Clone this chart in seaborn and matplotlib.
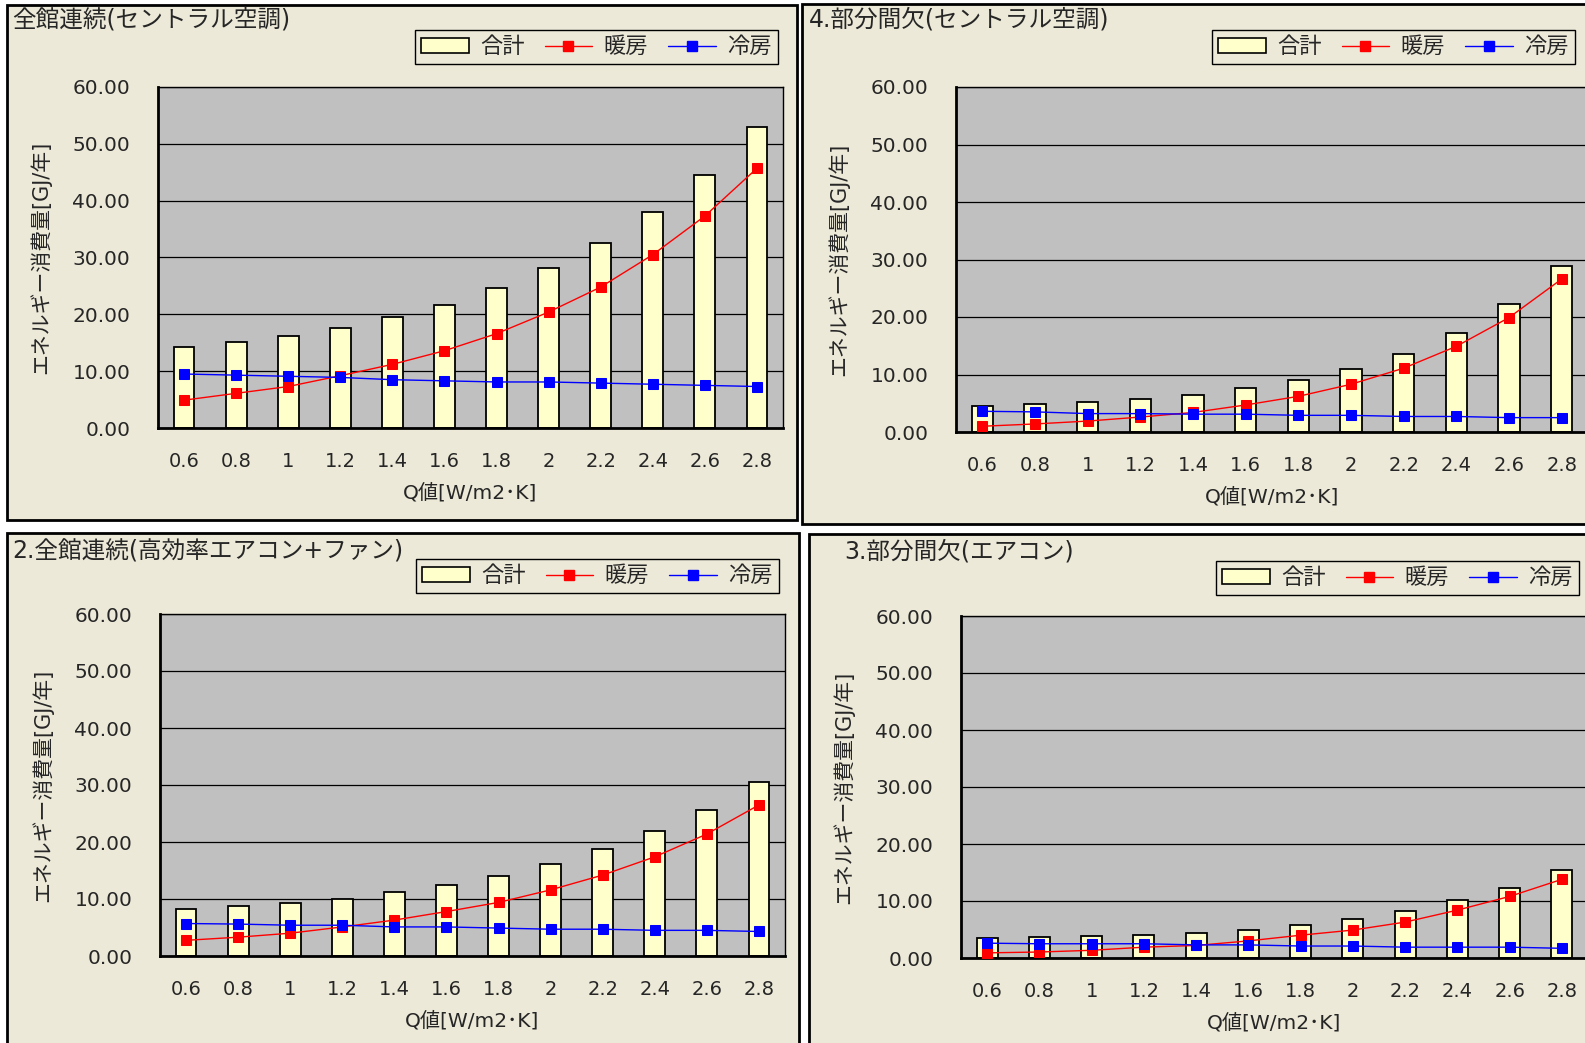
import matplotlib
matplotlib.use("Agg")
import matplotlib.pyplot as plt
from matplotlib.patches import Rectangle, Patch
from matplotlib.lines import Line2D
from matplotlib.ticker import FixedLocator, FormatStrFormatter
import seaborn as sns

# Q value categories
q_labels = ["0.6", "0.8", "1", "1.2", "1.4", "1.6", "1.8", "2", "2.2", "2.4", "2.6", "2.8"]
series_names = ["合計", "暖房", "冷房"]

# 全館連続(セントラル空調)
total_cc = [14.3, 15.1, 16.2, 17.6, 19.5, 21.7, 24.7, 28.2, 32.5, 38.0, 44.6, 52.9]
heat_cc = [4.9, 6.1, 7.3, 9.2, 11.2, 13.6, 16.6, 20.4, 24.8, 30.5, 37.3, 45.7]
cool_cc = [9.5, 9.3, 9.1, 8.9, 8.5, 8.3, 8.1, 8.1, 7.9, 7.7, 7.5, 7.3]

# 4.部分間欠(セントラル空調)
total_pc = [4.6, 4.8, 5.2, 5.8, 6.4, 7.6, 9.0, 11.0, 13.6, 17.2, 22.2, 28.8]
heat_pc = [1.0, 1.4, 1.9, 2.6, 3.4, 4.7, 6.2, 8.3, 11.1, 14.9, 19.9, 26.6]
cool_pc = [3.6, 3.5, 3.2, 3.2, 3.1, 3.1, 2.9, 2.9, 2.7, 2.7, 2.5, 2.5]

# 2.全館連続(高効率エアコン+ファン)
total_ca = [8.3, 8.7, 9.3, 10.0, 11.3, 12.5, 14.1, 16.1, 18.7, 21.9, 25.7, 30.5]
heat_ca = [2.75, 3.3, 4.0, 5.1, 6.3, 7.8, 9.4, 11.6, 14.2, 17.4, 21.4, 26.5]
cool_ca = [5.7, 5.6, 5.4, 5.4, 5.1, 5.1, 4.9, 4.7, 4.7, 4.5, 4.5, 4.3]

# 3.部分間欠(エアコン)
total_pa = [3.45, 3.6, 3.8, 4.0, 4.4, 5.0, 5.8, 6.8, 8.2, 10.1, 12.3, 15.5]
heat_pa = [0.9, 1.05, 1.35, 1.9, 2.2, 3.0, 4.0, 4.9, 6.3, 8.4, 10.8, 13.8]
cool_pa = [2.6, 2.5, 2.5, 2.5, 2.3, 2.3, 2.1, 2.1, 1.9, 1.9, 1.9, 1.7]

titles = ["全館連続(セントラル空調)", "4.部分間欠(セントラル空調)",
          "2.全館連続(高効率エアコン+ファン)", "3.部分間欠(エアコン)"]
xlabel = "Q値[W/m2･K]"
ylabel = "エネルギー消費量[GJ/年]"

# layout in pixels: frame, plot area, title pos, legend (right, top)
W, H = 1585, 1043
layout = [
    dict(frame=(7, 5, 797, 520), plot=(158, 87, 783, 428), title=(12, 20), legend=(778, 30)),
    dict(frame=(802, 4, 1600, 524), plot=(956, 87, 1588, 432), title=(809, 20), legend=(1575, 30)),
    dict(frame=(7, 533, 799, 1060), plot=(160, 614, 785, 956), title=(12, 551), legend=(779, 559)),
    dict(frame=(809, 534, 1600, 1060), plot=(961, 616, 1588, 958), title=(844, 552), legend=(1579, 561)),
]
data = [(total_cc, heat_cc, cool_cc), (total_pc, heat_pc, cool_pc),
        (total_ca, heat_ca, cool_ca), (total_pa, heat_pa, cool_pa)]

panel_bg = "#ECE9D8"
plot_bg = "#C0C0C0"
bar_color = "#FFFFCC"

sns.set_style("white")
plt.rcParams['font.family'] = ['DejaVu Sans', 'Noto Sans CJK JP']


def fx(x):
    return x / W


def fy(y):
    return 1 - y / H


fig = plt.figure(figsize=(W / 100, H / 100), dpi=100, facecolor="white")

for lay, title, (total, heat, cool) in zip(layout, titles, data):
    x0, y0, x1, y1 = lay["frame"]
    fig.add_artist(Rectangle((fx(x0), fy(y1)), fx(x1 - x0), (y1 - y0) / H,
                             transform=fig.transFigure, facecolor=panel_bg,
                             edgecolor="black", linewidth=2, zorder=-5))
    px0, py0, px1, py1 = lay["plot"]
    ax = fig.add_axes([fx(px0), fy(py1), fx(px1 - px0), (py1 - py0) / H])
    ax.set_facecolor(plot_bg)

    sns.barplot(x=q_labels, y=total, color=bar_color, saturation=1, width=0.4,
                edgecolor="black", linewidth=1.3, ax=ax, zorder=2)
    sns.pointplot(x=q_labels, y=heat, color="red", marker="s", markersize=7.5,
                  linewidth=1, errorbar=None, ax=ax, zorder=3)
    sns.pointplot(x=q_labels, y=cool, color="blue", marker="s", markersize=7.5,
                  linewidth=1, errorbar=None, ax=ax, zorder=4)

    ax.set_xlim(-0.5, len(q_labels) - 0.5)
    ax.set_ylim(0, 60)
    ax.set_yticks(range(0, 61, 10))
    ax.yaxis.set_major_formatter(FormatStrFormatter("%.2f"))
    ax.grid(axis="y", color="black", linewidth=0.9)
    ax.set_axisbelow(True)
    ax.xaxis.set_minor_locator(FixedLocator([i + 0.5 for i in range(len(q_labels) - 1)]))
    ax.tick_params(axis="x", which="major", length=0, pad=17, labelsize=14)
    ax.tick_params(axis="x", which="minor", direction="in", length=5, width=1, color="black")
    ax.tick_params(axis="y", direction="in", length=5, width=1, color="black", pad=20, labelsize=14.5)
    for side in ["top", "right"]:
        ax.spines[side].set_linewidth(1)
        ax.spines[side].set_color("black")
    for side in ["left", "bottom"]:
        ax.spines[side].set_linewidth(2)
        ax.spines[side].set_color("black")
    ax.set_xlabel(xlabel, fontsize=14.5, labelpad=9)
    ax.set_ylabel(ylabel, fontsize=15, labelpad=15)

    tx, ty = lay["title"]
    fig.text(fx(tx), fy(ty), title, fontsize=17, ha="left", va="center")

    handles = [Patch(facecolor=bar_color, edgecolor="black", linewidth=1.2),
               Line2D([], [], color="red", marker="s", markersize=7.5, linewidth=1),
               Line2D([], [], color="blue", marker="s", markersize=7.5, linewidth=1)]
    lx, ly = lay["legend"]
    leg = fig.legend(handles, series_names, loc="upper right", bbox_to_anchor=(fx(lx), fy(ly)),
                     ncol=3, frameon=True, fancybox=False, edgecolor="black", facecolor=panel_bg,
                     framealpha=1, fontsize=16, handlelength=2.15, handletextpad=0.5,
                     columnspacing=0.9, borderpad=0.3, borderaxespad=0)
    leg.get_frame().set_linewidth(1)

fig.savefig("out.png", dpi=100, facecolor="white")
